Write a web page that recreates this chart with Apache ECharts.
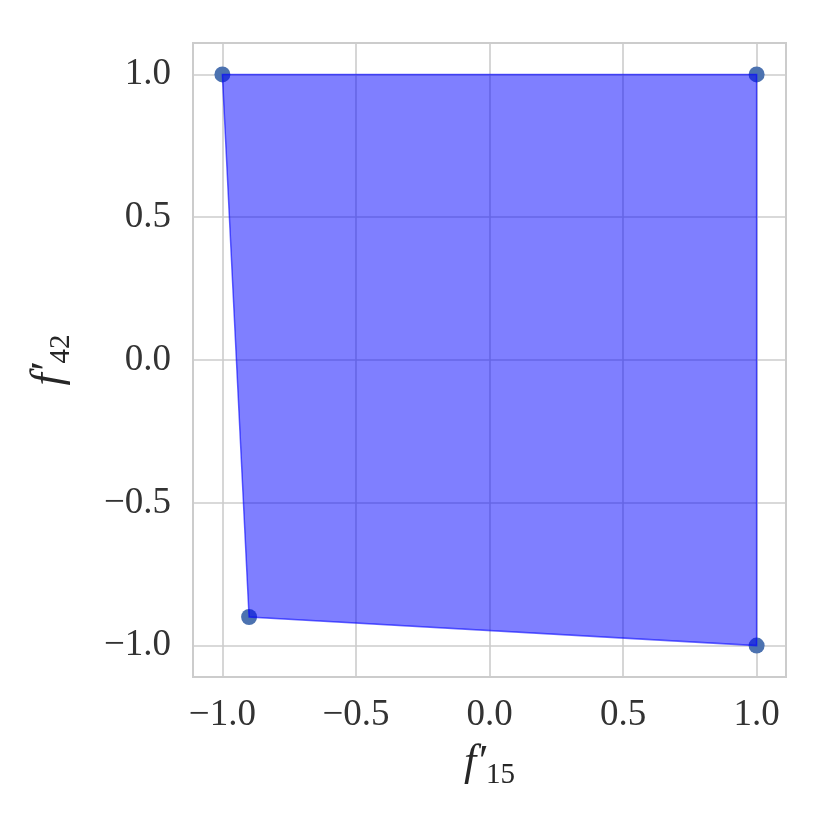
<!DOCTYPE html>
<html>
<head>
<meta charset="utf-8">
<script src="https://cdn.jsdelivr.net/npm/echarts@6/dist/echarts.min.js"></script>
<style>
  html, body { margin: 0; padding: 0; background: #fff; }
  #chart { width: 830px; height: 830px; }
</style>
</head>
<body>
<div id="chart"></div>
<script>
// polygon vertices (f'15, f'42)
const vertX = [-1.0, 1.0, 1.0, -0.9]
const vertY = [1.0, 1.0, -1.0, -0.9]
const tickValues = [-1.0, -0.5, 0.0, 0.5, 1.0]

const serif = 'Liberation Serif'
const fmt = v => v.toFixed(1).replace('-', '\u2212')

const points = vertX.map((x, i) => [x, vertY[i]])

const axisCommon = {
  type: 'value',
  min: -1.11,
  max: 1.11,
  axisLine: { show: false },
  axisTick: { show: false, customValues: tickValues },
  splitLine: { show: true, lineStyle: { color: '#cccccc', width: 1.6 } },
  axisLabel: {
    customValues: tickValues,
    formatter: fmt,
    fontFamily: serif,
    fontSize: 37,
    color: '#333333'
  },
  nameLocation: 'middle',
  nameTextStyle: {
    fontFamily: serif,
    color: '#262626',
    rich: {
      f: { fontFamily: serif, fontStyle: 'italic', fontSize: 44, color: '#262626', verticalAlign: 'top', lineHeight: 46 },
      s: { fontFamily: serif, fontSize: 29, color: '#262626', verticalAlign: 'top', lineHeight: 32, padding: [20, 0, 0, 0] }
    }
  }
}

const chart = echarts.init(document.getElementById('chart'))
chart.setOption({
  animation: false,
  grid: {
    left: 193, right: 44, top: 43, bottom: 153,
    outerBoundsMode: 'none',
    containLabel: false,
    show: true, borderColor: '#cccccc', borderWidth: 2, backgroundColor: 'transparent'
  },
  xAxis: Object.assign({}, axisCommon, {
    name: '{f|f\u2032}{s|15}',
    nameGap: 64,
    axisLabel: Object.assign({}, axisCommon.axisLabel, { margin: 20 })
  }),
  yAxis: Object.assign({}, axisCommon, {
    name: '{f|f\u2032}{s|42}',
    nameGap: 120,
    axisLabel: Object.assign({}, axisCommon.axisLabel, { margin: 22 })
  }),
  series: [
    {
      type: 'scatter',
      data: points,
      symbolSize: 16,
      itemStyle: { color: '#4c72b0', opacity: 1 },
      z: 2
    },
    {
      type: 'custom',
      data: points,
      z: 3,
      renderItem (params, api) {
        if (params.dataIndex !== 0) return
        const pts = points.map(p => api.coord(p))
        return {
          type: 'polygon',
          shape: { points: pts },
          style: {
            fill: 'rgba(0,0,255,0.5)',
            stroke: 'rgba(0,0,255,0.6)',
            lineWidth: 1.5
          }
        }
      }
    }
  ]
})
</script>
</body>
</html>
